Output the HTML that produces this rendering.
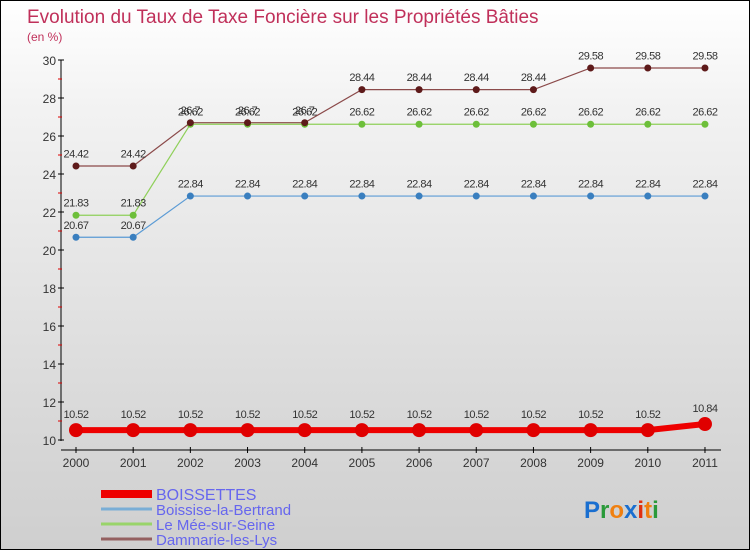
<!DOCTYPE html>
<html><head><meta charset="utf-8"><style>
body{margin:0;width:750px;height:550px;overflow:hidden;font-family:"Liberation Sans",sans-serif}
#wrap{position:relative;width:748px;height:548px;border:1px solid #000;background:linear-gradient(#fff,#f2f2f2 20%,#d9d9d9 75%,#cfcfcf)}
</style></head><body>
<div id="wrap">
<svg id="chart" width="748" height="548" style="position:absolute;left:0;top:0"></svg>
</div>
<script>
const years=["2000","2001","2002","2003","2004","2005","2006","2007","2008","2009","2010","2011"];
const boissettes=[10.52,10.52,10.52,10.52,10.52,10.52,10.52,10.52,10.52,10.52,10.52,10.84];
const boissise=[20.67,20.67,22.84,22.84,22.84,22.84,22.84,22.84,22.84,22.84,22.84,22.84];
const lemee=[21.83,21.83,26.62,26.62,26.62,26.62,26.62,26.62,26.62,26.62,26.62,26.62];
const dammarie=[24.42,24.42,26.7,26.7,26.7,28.44,28.44,28.44,28.44,29.58,29.58,29.58];
const yTicks=[10,12,14,16,18,20,22,24,26,28,30];
const NS="http://www.w3.org/2000/svg";
const svg=document.getElementById('chart');
function x(i){return 75+i*57.18;}
function y(v){return 439-(v-10)*19;}
function el(t,a,p){const e=document.createElementNS(NS,t);for(const k in a)e.setAttribute(k,a[k]);(p||svg).appendChild(e);return e;}
function txt(s,a){const e=el('text',a);e.textContent=s;return e;}
let t=txt("Evolution du Taux de Taxe Foncière sur les Propriétés Bâties",{x:26,y:22,'font-size':19,fill:'#c0305a'});

t=txt("(en %)",{x:26,y:40,'font-size':12,fill:'#c0305a'});

let ax=el('line',{x1:60,y1:59,x2:60,y2:440,stroke:'#000'});

ax=el('line',{x1:60,y1:449,x2:720,y2:449,stroke:'#000'});

yTicks.forEach((v,i)=>{
 el('line',{x1:57,x2:63,y1:y(v),y2:y(v),stroke:'#000'});
 if(i<yTicks.length-1)el('line',{x1:57,x2:61,y1:y(v+1),y2:y(v+1),stroke:'#d00'});
 const l=txt(String(v),{x:55,y:y(v)+5,'font-size':12,fill:'#333','text-anchor':'end'});
 
});
years.forEach((yr,i)=>{
 el('line',{x1:x(i),x2:x(i),y1:446,y2:452,stroke:'#000'});
 const l=txt(yr,{x:x(i),y:466,'font-size':12,fill:'#333','text-anchor':'middle'});
 
});
function series(vals,color,dot,w,r,name){
 const g=el('g',{});
 
 
 el('polyline',{points:vals.map((v,i)=>x(i)+','+y(v)).join(' '),fill:'none',stroke:color,'stroke-width':w},g);
 vals.forEach((v,i)=>{
  const c=el('circle',{cx:x(i),cy:y(v),r:r,fill:dot},g);
  
  const l=txt(String(v),{x:x(i),y:y(v)-(r+5),'font-size':11,fill:'#333','text-anchor':'middle','letter-spacing':'-0.5'});
  g.appendChild(l);
  
 });
}
series(boissise,'#5b9bd5','#3a7fbf',1.2,3.5,'boissise-series');
series(lemee,'#8fd05a','#6dbf3a',1.2,3.5,'lemee-series');
series(dammarie,'#8b4a4a','#5e1a1a',1.2,3.5,'dammarie-series');
series(boissettes,'#ee0000','#e00000',6,7,'boissettes-series');
const legNames=["BOISSETTES","Boissise-la-Bertrand","Le Mée-sur-Seine","Dammarie-les-Lys"];
const legCols=['#ee0000','#7aaed6','#99d46a','#946060'];
const legW=[8,3,3,3];
legNames.forEach((n,i)=>{
 const yy=493+i*15;
 const g=el('g',{});
 
 el('line',{x1:100,x2:151,y1:yy,y2:yy,stroke:legCols[i],'stroke-width':legW[i]},g);
 const l=txt(n,{x:155,y:yy+6,'font-size':i==0?16:15,fill:'#6666ee'});g.appendChild(l);
});
const logo=txt("",{x:583,y:517,'font-size':24,'font-weight':'bold'});

[["P","#1a6fd0"],["r","#2a9a3a"],["o","#f08010"],["x","#1a6fd0"],["i","#e03010"],["t","#f08010"],["i","#2a9a3a"]].forEach(([c,col])=>{
 const s=el('tspan',{fill:col},logo);s.textContent=c;
});
</script>
</body></html>
